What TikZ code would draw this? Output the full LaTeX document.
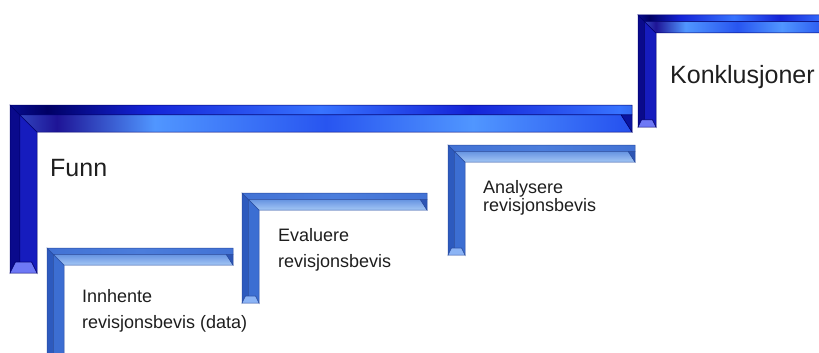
\documentclass[tikz,border=0pt]{standalone}
\usepackage{fontspec}
\setmainfont{Liberation Sans}
\usepackage{xcolor}
\usepackage{tikz}
\usetikzlibrary{positioning}

% colours of the two kinds of steps
\definecolor{bA}{RGB}{20,35,215}
\definecolor{bB}{RGB}{55,115,255}
\definecolor{bD}{RGB}{0,0,100}
\definecolor{bL}{RGB}{80,150,255}
\definecolor{bM}{RGB}{40,85,240}
\definecolor{bN}{RGB}{30,20,150}
\definecolor{big-left}{RGB}{10,10,140}
\definecolor{big-leftbev}{RGB}{22,28,190}
\definecolor{big-foot}{RGB}{110,120,245}
\definecolor{big-end}{RGB}{10,20,160}
\definecolor{big-edge}{RGB}{0,0,110}
\definecolor{sA}{RGB}{58,104,205}
\definecolor{sB}{RGB}{75,125,220}
\definecolor{sL}{RGB}{195,225,255}
\definecolor{sM}{RGB}{70,120,215}
\definecolor{small-left}{RGB}{45,90,190}
\definecolor{small-leftbev}{RGB}{60,110,210}
\definecolor{small-foot}{RGB}{140,180,245}
\definecolor{small-end}{RGB}{45,85,180}
\definecolor{small-edge}{RGB}{40,75,160}
\definecolor{txt}{RGB}{30,30,30}

\pgfdeclarehorizontalshading{big-topface}{100bp}{color(0bp)=(bA); color(10bp)=(bB);
  color(20bp)=(bA); color(28bp)=(bD); color(36bp)=(bA); color(50bp)=(bB);
  color(62bp)=(bA); color(74bp)=(bB); color(86bp)=(bD); color(95bp)=(bA); color(100bp)=(bA)}
\pgfdeclarehorizontalshading{big-bevface}{100bp}{color(0bp)=(bL); color(12bp)=(bM);
  color(20bp)=(bL); color(28bp)=(bN); color(36bp)=(bL); color(50bp)=(bM);
  color(62bp)=(bL); color(74bp)=(bM); color(86bp)=(bN); color(95bp)=(bL); color(100bp)=(bL)}
\pgfdeclarehorizontalshading{small-topface}{100bp}{color(0bp)=(sA); color(50bp)=(sB); color(100bp)=(sA)}
\pgfdeclareverticalshading{small-bevface}{100bp}{color(0bp)=(sL); color(100bp)=(sM)}

\begin{document}
\begin{tikzpicture}[
    x=1pt, y=-1pt,
    % Define styles for the labels
        lbl/.style={inner sep=0pt, text=txt, align=left, font=\fontsize{18}{26}\selectfont},
        biglbl/.style={inner sep=0pt, text=txt, font=\fontsize{25}{30}\selectfont},
        edge/.style={line width=0.5pt}
    ]
    \useasboundingbox (0,0) rectangle (819,353);

        % Draw the steps
        \foreach \xa/\ya/\xb/\yb/\t/\k in {10/105/632/273/27/big, 638/15/830/127/18/big,
            47/248/233/365/17/small, 242/193/427/303/17/small, 448/145/635/255/17/small}{
            \pgfmathsetmacro\f{0.37*\t}
            \pgfmathsetmacro\d{0.4*\t}
            \pgfmathsetmacro\g{0.2*\t}
            % left bar
            \fill[\k-left, draw=\k-edge, edge] (\xa,\ya) -- ({\xa+\f},{\ya+\f}) -- ({\xa+\f},{\yb-\d})
                -- ({\xa+\g},{\yb-\d}) -- (\xa,\yb) -- cycle;
            \fill[\k-leftbev, draw=\k-edge, edge] ({\xa+\f},{\ya+\f}) -- ({\xa+\t},{\ya+\t}) -- ({\xa+\t},\yb)
                -- ({\xa+\t-\g},{\yb-\d}) -- ({\xa+\f},{\yb-\d}) -- cycle;
            \fill[\k-foot, draw=\k-edge, edge] (\xa,\yb) -- ({\xa+\g},{\yb-\d}) -- ({\xa+\t-\g},{\yb-\d})
                -- ({\xa+\t},\yb) -- cycle;
            % top bar
            \shade[shading=\k-topface, draw=\k-edge, edge] (\xa,\ya) -- (\xb,\ya) -- (\xb,{\ya+\f})
                -- ({\xa+\f},{\ya+\f}) -- cycle;
            \shade[shading=\k-bevface, draw=\k-edge, edge] ({\xa+\f},{\ya+\f}) -- ({\xb-\d},{\ya+\f})
                -- (\xb,{\ya+\t}) -- ({\xa+\t},{\ya+\t}) -- cycle;
            \fill[\k-end, draw=\k-edge, edge] ({\xb-\d},{\ya+\f}) -- (\xb,{\ya+\f}) -- (\xb,{\ya+\t}) -- cycle;
        }

        % Define the labels
        \node[biglbl, anchor=base west] (funn) at (50,176) {Funn};

        \node[lbl, anchor=north west] (innhente) at (82,289) {Innhente\\revisjonsbevis (data)};

        \node[lbl, anchor=north west] (evaluere) at (278,228) {Evaluere\\revisjonsbevis};

        \node[lbl, anchor=north west, font=\fontsize{18}{18.5}\selectfont] (analysere) at (483,180) {Analysere\\revisjonsbevis};

        \node[biglbl, anchor=base west] (konklusjoner) at (670,83) {Konklusjoner};
    \end{tikzpicture}
\end{document}
